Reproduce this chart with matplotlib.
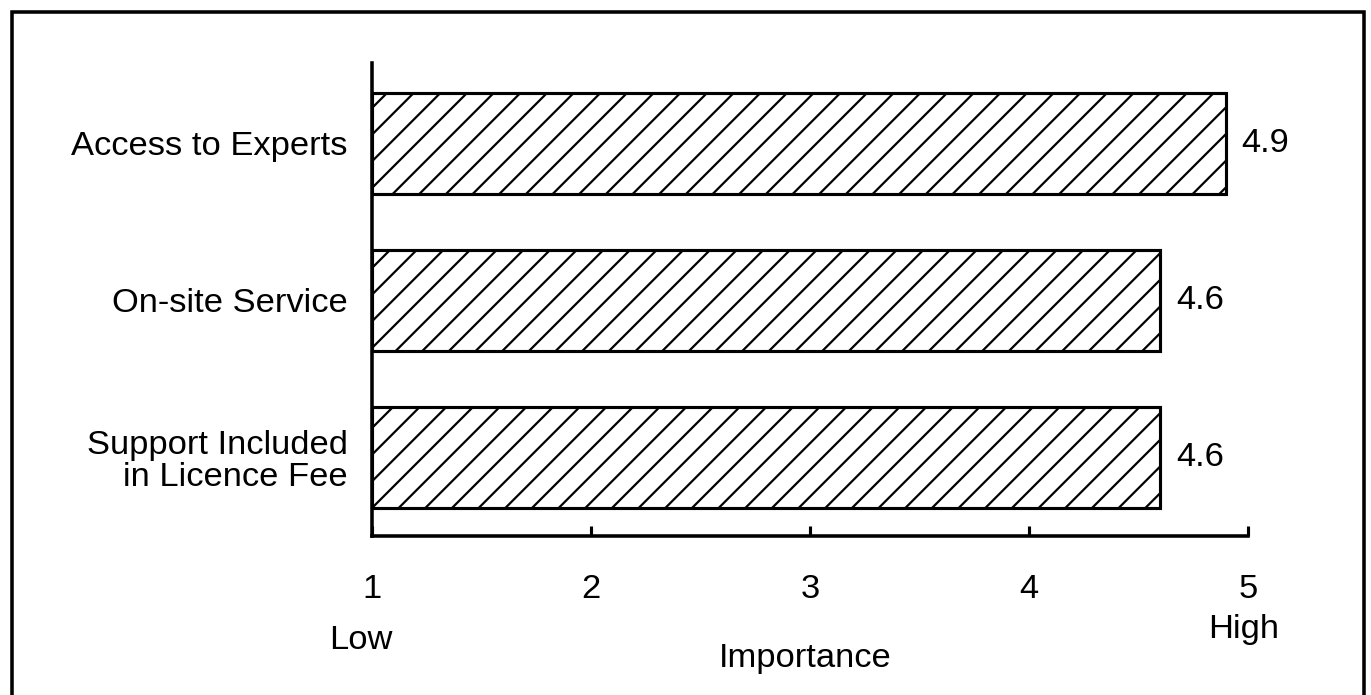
import matplotlib
matplotlib.use("Agg")
import matplotlib.pyplot as plt
from matplotlib.patches import Rectangle

categorias = ["Access to Experts", "On-site Service", "Support Included\nin Licence Fee"]
valores = [4.9, 4.6, 4.6]
ticks_x = [1, 2, 3, 4, 5]

plt.rcParams["font.family"] = ["Liberation Sans", "DejaVu Sans"]
plt.rcParams["hatch.linewidth"] = 1.0
plt.rcParams["hatch.color"] = "black"

DPI = 160
fig = plt.figure(figsize=(1371 / DPI, 695 / DPI), dpi=DPI)
ax = fig.add_axes([0.2713, 0.2288, 0.9103 - 0.2713, 0.9094 - 0.2288])

# barras de cima para baixo
posicoes = list(range(len(categorias)))[::-1]
barras = ax.barh(
    posicoes,
    [v - 1 for v in valores],
    left=1,
    height=0.643,
    color="white",
    edgecolor="black",
    linewidth=1.4,
    hatch="//",
)
ax.bar_label(barras, labels=[f"{v:.1f}" for v in valores], padding=7, fontsize=15.5)

ax.set_xlim(1, 5)
ax.set_ylim(-0.5, 2.51)
ax.set_xticks(ticks_x)
ax.set_xticklabels([str(t) for t in ticks_x], fontsize=15.5)
ax.set_yticks(posicoes)
ax.set_yticklabels(categorias, fontsize=15.5, linespacing=1.05)

ax.tick_params(axis="x", direction="in", length=4.5, width=1.4, pad=17)
ax.tick_params(axis="y", length=0, pad=11)
ax.spines[["top", "right"]].set_visible(False)
ax.spines[["left", "bottom"]].set_linewidth(1.6)

tr = ax.get_xaxis_transform()
ax.text(0.95, -0.222, "Low", transform=tr, ha="center", va="center", fontsize=15.5)
ax.text(4.98, -0.197, "High", transform=tr, ha="center", va="center", fontsize=15.5)
ax.text(2.98, -0.26, "Importance", transform=tr, ha="center", va="center", fontsize=15.5)

# moldura externa
fig.patches.append(
    Rectangle(
        (12 / 1371, -0.01),
        (1364 - 12) / 1371,
        1.01 - 12 / 695,
        transform=fig.transFigure,
        fill=False,
        edgecolor="black",
        linewidth=1.6,
    )
)

fig.savefig("out.png", dpi=DPI)
